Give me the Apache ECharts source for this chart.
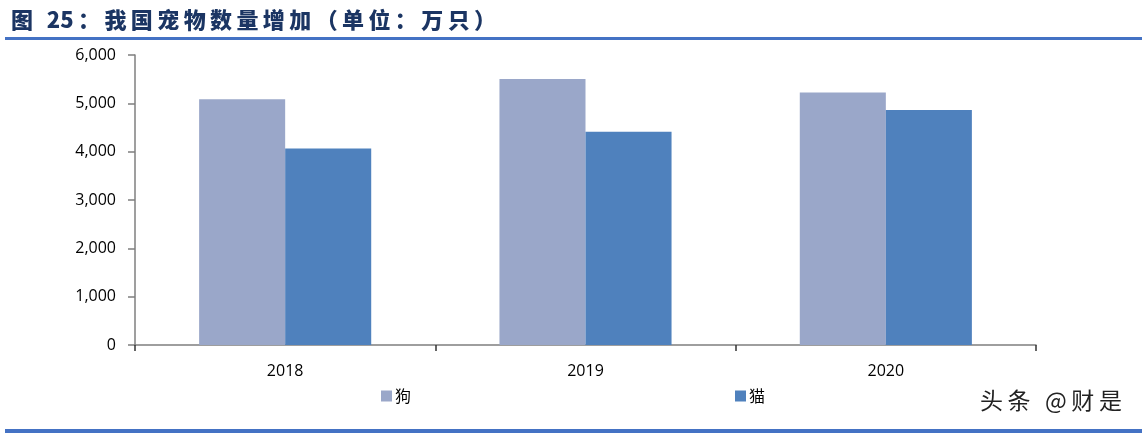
<!DOCTYPE html>
<html>
<head>
<meta charset="utf-8">
<script src="https://cdn.jsdelivr.net/npm/echarts@6/dist/echarts.min.js"></script>
<style>
html,body{margin:0;padding:0;background:#fff;}
#c{width:1145px;height:434px;}
</style>
</head>
<body>
<div id="c"></div>
<script>
const categories = ['2018', '2019', '2020'];
const dogValues = [5085, 5503, 5222];
const catValues = [4064, 4412, 4862];
const seriesNames = ['狗', '猫'];
const yTicks = { min: 0, max: 6000, interval: 1000 };
const titleText = '图 25：我国宠物数量增加（单位：万只）';
const watermark = '头条 @财是';

// spread characters slightly (thin spaces) to mimic the wide letter spacing of the original
const spread = s => {
  const ch = Array.from(s);
  let out = '';
  ch.forEach((c, i) => {
    out += c;
    const n = ch[i + 1];
    if (n !== undefined && !(/[0-9]/.test(c) && /[0-9]/.test(n))) out += '\u2009';
  });
  return out;
};

const chart = echarts.init(document.getElementById('c'), null, { renderer: 'canvas' });
const fontFam = '"Open Sans", "Noto Sans", "Noto Sans CJK SC", sans-serif';
chart.setOption({
  animation: false,
  backgroundColor: '#fff',
  title: {
    text: spread(titleText),
    left: 6, top: 4,
    textStyle: { fontFamily: '"Noto Sans CJK SC", sans-serif', fontWeight: 900, fontSize: 22, color: '#1B3563' }
  },
  graphic: [
    { type: 'rect', shape: { x: 5, y: 37, width: 1137, height: 3 }, style: { fill: '#4472C4' } },
    { type: 'rect', shape: { x: 5, y: 429, width: 1137, height: 4 }, style: { fill: '#4472C4' } },
    { type: 'text', left: 980, top: 389, style: { text: spread(watermark), font: '23px "Noto Sans CJK SC", sans-serif', fill: '#222' } }
  ],
  legend: {
    data: seriesNames,
    left: 376, top: 383,
    itemWidth: 11, itemHeight: 11, itemGap: 324,
    icon: 'rect',
    textStyle: { fontFamily: '"Noto Sans CJK SC", sans-serif', fontSize: 16, color: '#000', padding: [0, 0, 0, -2] }
  },
  grid: { left: 135, right: 109, top: 55, bottom: 89, containLabel: false },
  xAxis: {
    type: 'category',
    data: categories,
    axisLine: { lineStyle: { color: '#7f7f7f', width: 1.5 } },
    axisTick: { show: true, alignWithLabel: false, length: 6, lineStyle: { color: '#333', width: 1.5 } },
    axisLabel: { fontFamily: fontFam, fontSize: 16, color: '#000', margin: 18 }
  },
  yAxis: {
    type: 'value',
    min: yTicks.min, max: yTicks.max, interval: yTicks.interval,
    axisLine: { show: true, lineStyle: { color: '#7f7f7f', width: 1.5 } },
    axisTick: { show: true, length: 7, lineStyle: { color: '#7f7f7f', width: 1.5 } },
    splitLine: { show: false },
    axisLabel: {
      fontFamily: fontFam, fontSize: 16, color: '#000', margin: 19,
      formatter: v => v.toLocaleString('en-US')
    }
  },
  series: [
    { name: seriesNames[0], type: 'bar', data: dogValues, barGap: '0%', barCategoryGap: '42.7%', itemStyle: { color: '#9AA7C9' } },
    { name: seriesNames[1], type: 'bar', data: catValues, barGap: '0%', barCategoryGap: '42.7%', itemStyle: { color: '#4F81BD' } }
  ]
});
</script>
</body>
</html>
